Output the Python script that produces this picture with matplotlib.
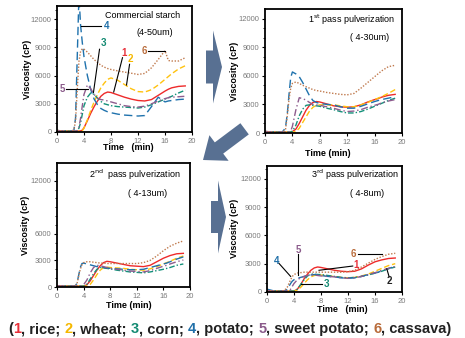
import numpy as np
import matplotlib
matplotlib.use("Agg")
import matplotlib.pyplot as plt
from matplotlib.patches import Polygon
from matplotlib.text import Annotation

plt.rcParams["font.family"] = ["Liberation Sans", "DejaVu Sans"]

# time grid (min) shared by all curves
time_min = [0, 1, 2, 2.5, 2.75, 3, 3.25, 3.5, 3.75, 4, 4.5, 5, 5.5, 6, 6.5, 7, 7.5,
            8, 9, 10, 11, 12, 13, 14, 15, 16, 16.5, 17, 18, 19]

starch = ["rice", "wheat", "corn", "potato", "sweet potato", "cassava"]

# commercial starch (4-50 um)
rice_0 = [150, 120, 100, 100, 100, 100, 100, 120, 200, 450, 1200, 2000, 2700, 3300, 3800, 4100, 4250,
          4200, 3950, 3700, 3500, 3350, 3300, 3450, 3900, 4350, 4550, 4700, 4850, 4900]
wheat_0 = [150, 120, 100, 100, 100, 100, 100, 100, 150, 400, 1300, 2300, 3200, 4000, 4700, 5200, 5600,
           5750, 5500, 5050, 4600, 4300, 4250, 4500, 5000, 5600, 5900, 6200, 6700, 7050]
corn_0 = [150, 120, 100, 100, 100, 150, 400, 1000, 1900, 2800, 3700, 4150, 4000, 3600, 3250, 3000, 2900,
          2800, 2700, 2650, 2600, 2550, 2650, 2900, 3200, 3500, 3650, 3800, 4150, 4450]
potato_0 = [150, 120, 100, 150, 1500, 8000, 14500, 11300, 9500, 8000, 6000, 4500, 3500, 2900, 2500, 2300, 2150,
            2050, 1900, 1800, 1750, 1700, 1750, 2700, 3700, 3200, 3300, 3350, 3450, 3500]
sweet_0 = [150, 120, 100, 100, 100, 150, 500, 1500, 2800, 4000, 5000, 4600, 4000, 3600, 3450, 3400, 3300,
           3200, 3000, 2800, 2700, 2650, 2750, 3000, 3300, 3550, 3650, 3700, 3750, 3800]
cassava_0 = [150, 120, 100, 200, 1200, 4500, 7500, 8600, 8850, 8800, 8500, 8100, 7700, 7400, 7100, 6900, 6750,
             6650, 6500, 6370, 6250, 6120, 6230, 6830, 7720, 8650, 7600, 7550, 7550, 7900]

# 1st pass pulverization (4-30 um)
rice_1 = [150, 120, 100, 100, 100, 100, 100, 100, 100, 150, 400, 1000, 1700, 2400, 2900, 3200, 3300,
          3250, 3050, 2850, 2750, 2700, 2750, 2950, 3250, 3500, 3600, 3750, 3950, 4050]
wheat_1 = [150, 120, 100, 100, 100, 100, 100, 100, 100, 100, 150, 500, 1100, 1700, 2300, 2700, 2900,
           2950, 2950, 2950, 2850, 2750, 2750, 2950, 3200, 3500, 3650, 3800, 4150, 4550]
corn_1 = [150, 120, 100, 100, 100, 100, 100, 100, 100, 200, 800, 1800, 2500, 2900, 2950, 2900, 2850,
          2800, 2600, 2450, 2250, 2100, 2100, 2250, 2500, 2800, 2950, 3100, 3400, 3650]
potato_1 = [150, 120, 100, 100, 300, 600, 2000, 4000, 5800, 6400, 6200, 5900, 5300, 4600, 3900, 3400, 3200,
            3100, 3000, 2950, 2750, 2600, 2600, 2800, 3050, 3300, 3400, 3500, 3650, 3800]
sweet_1 = [150, 120, 100, 100, 100, 100, 100, 100, 200, 700, 2400, 3700, 3600, 3450, 3200, 3000, 2950,
           2900, 2750, 2600, 2400, 2250, 2300, 2450, 2700, 2900, 3000, 3150, 3350, 3500]
cassava_1 = [150, 120, 100, 100, 200, 400, 1800, 3500, 4700, 5200, 5350, 5200, 5000, 4850, 4700, 4550, 4450,
             4400, 4250, 4150, 4050, 4000, 4150, 4700, 5300, 5900, 6200, 6500, 6950, 7100]

# 2nd pass pulverization (4-13 um)
rice_2 = [150, 120, 100, 100, 100, 100, 100, 100, 100, 100, 250, 700, 1300, 1900, 2400, 2750, 2900,
          2850, 2700, 2550, 2400, 2350, 2300, 2450, 2850, 3250, 3400, 3550, 3750, 3800]
wheat_2 = [150, 120, 100, 100, 100, 100, 100, 100, 100, 100, 100, 300, 800, 1400, 1900, 2200, 2250,
           2200, 2150, 2100, 2000, 1950, 1900, 2050, 2300, 2600, 2750, 2900, 3250, 3500]
corn_2 = [150, 120, 100, 100, 100, 100, 100, 100, 100, 100, 300, 900, 1500, 2000, 2200, 2150, 2100,
          2050, 1900, 1800, 1700, 1650, 1600, 1700, 1850, 2000, 2100, 2200, 2450, 2600]
potato_2 = [150, 120, 100, 100, 150, 400, 1300, 2200, 2650, 2700, 2600, 2500, 2400, 2300, 2250, 2200, 2150,
            2100, 2050, 2000, 1950, 1950, 2000, 2200, 2400, 2600, 2700, 2850, 3150, 3400]
sweet_2 = [150, 120, 100, 100, 100, 100, 100, 100, 100, 250, 800, 1600, 2200, 2450, 2400, 2300, 2200,
           2100, 2000, 1900, 1800, 1750, 1700, 1850, 2100, 2350, 2450, 2600, 2850, 3050]
cassava_2 = [150, 120, 100, 100, 150, 350, 1200, 2000, 2500, 2750, 2850, 2850, 2800, 2750, 2700, 2700, 2650,
             2650, 2650, 2650, 2650, 2650, 2750, 3000, 3500, 4100, 4350, 4600, 4950, 5200]

# 3rd pass pulverization (4-8 um)
rice_3 = [150, 120, 100, 100, 100, 100, 100, 100, 100, 100, 300, 800, 1400, 1900, 2300, 2550, 2650,
          2600, 2450, 2300, 2200, 2150, 2200, 2450, 2850, 3200, 3300, 3400, 3550, 3600]
wheat_3 = [150, 120, 100, 100, 100, 100, 100, 100, 100, 100, 200, 500, 900, 1300, 1600, 1750, 1800,
           1800, 1700, 1650, 1550, 1500, 1550, 1700, 1900, 2200, 2350, 2500, 2800, 3000]
corn_3 = [150, 120, 100, 100, 100, 100, 100, 100, 100, 100, 300, 800, 1300, 1700, 1900, 1900, 1850,
          1850, 1750, 1650, 1550, 1500, 1550, 1650, 1800, 2000, 2100, 2200, 2450, 2650]
potato_3 = [300, 120, 100, 100, 150, 300, 600, 900, 1150, 1300, 1450, 1550, 1650, 1750, 1800, 1850, 1800,
            1750, 1650, 1600, 1500, 1450, 1500, 1650, 1850, 2000, 2100, 2250, 2500, 2700]
sweet_3 = [150, 120, 100, 100, 100, 100, 100, 300, 600, 900, 1300, 1500, 1650, 1750, 1800, 1800, 1750,
           1700, 1650, 1600, 1500, 1450, 1500, 1650, 1850, 2050, 2150, 2300, 2500, 2700]
cassava_3 = [150, 120, 100, 150, 300, 500, 900, 1300, 1650, 1850, 2000, 2050, 2100, 2100, 2100, 2100, 2100,
             2100, 2100, 2100, 2100, 2150, 2300, 2650, 3050, 3450, 3600, 3750, 4000, 4100]

panel_data = [
    [rice_0, wheat_0, corn_0, potato_0, sweet_0, cassava_0],
    [rice_1, wheat_1, corn_1, potato_1, sweet_1, cassava_1],
    [rice_2, wheat_2, corn_2, potato_2, sweet_2, cassava_2],
    [rice_3, wheat_3, corn_3, potato_3, sweet_3, cassava_3],
]

colors = ["#ee2a2a", "#ffc20e", "#14917a", "#1f72ad", "#8e5c8e", "#c07a4e"]
styles = ["-", (0, (4, 2)), (0, (4, 1.5, 1, 1.5)), (0, (6, 3)), (0, (5, 2, 1, 2)), (0, (1, 1.2))]
label_colors = ["#e8303a", "#f5b800", "#138a72", "#1f6fa8", "#8a5a8a", "#b86b3a"]

fig = plt.figure(figsize=(4.65, 3.38), dpi=100)
W, H = 465, 338


def px_axes(l, r, t, b):
    return fig.add_axes([l / W, 1 - b / H, (r - l) / W, (b - t) / H])


axes = [px_axes(57, 192, 6, 132), px_axes(265, 402, 9, 133),
        px_axes(57, 190, 163, 287), px_axes(267, 402, 165.5, 292)]
ylims = [13400, 13000, 14000, 13400]
titles = ["Commercial starch", r"1$^{\rm st}$ pass pulverization",
          r"2$^{\rm nd}$  pass pulverization", r"3$^{\rm rd}$ pass pulverization"]
sizes = ["(4-50um)", "( 4-30um)", "( 4-13um)", "( 4-8um)"]
title_pos = [(0.637, 0.925), (0.635, 0.915), (0.584, 0.905), (0.650, 0.928)]
size_pos = [(0.726, 0.786), (0.763, 0.774), (0.684, 0.756), (0.738, 0.780)]
xlabels = ["Time   (min)", "Time (min)", "Time (min)", "Time   (min)"]
xlab_pos = [(0.526, -0.125), (0.46, -0.162), (0.54, -0.150), (0.556, -0.138)]
ylab_x = [-0.222, -0.219, -0.24, -0.244]

for k, ax in enumerate(axes):
    for vals, c, ls in zip(panel_data[k], colors, styles):
        ax.plot(time_min, vals, color=c, linestyle=ls, lw=1.0)
    ax.set_xlim(0, 20)
    ax.set_ylim(0, ylims[k])
    ax.set_xticks([0, 4, 8, 12, 16, 20])
    if k == 2:
        ax.set_yticks([0, 3000, 6000, 12000])
    else:
        ax.set_yticks([0, 3000, 6000, 9000, 12000])
    ax.set_yticks(np.arange(0, ylims[k], 1000), minor=True)
    ax.tick_params(labelsize=5.5, labelcolor="#7a7a7a", length=2.5, width=0.8, pad=1.5)
    ax.tick_params(which="minor", length=1.5, width=0.6)
    for s in ax.spines.values():
        s.set_linewidth(1.3)
    ax.set_xlabel(xlabels[k], fontsize=6.5, fontweight="bold", va="center")
    ax.xaxis.set_label_coords(*xlab_pos[k])
    ax.set_ylabel("Viscosity (cP)", fontsize=6.5, fontweight="bold", va="center")
    ax.yaxis.set_label_coords(ylab_x[k], 0.5)
    ax.text(*title_pos[k], titles[k], transform=ax.transAxes, fontsize=6.5,
            ha="center", va="center")
    ax.text(*size_pos[k], sizes[k], transform=ax.transAxes, fontsize=6.5,
            ha="center", va="center")

# numbered leader labels: (label, colour, text xy, line start, line end)
notes_0 = [("4", label_colors[3], (7.3, 11300), (3.6, 11300), (6.5, 11300)),
           ("3", label_colors[2], (6.9, 9500), (6.3, 8800), (5.4, 4200)),
           ("1", label_colors[0], (10.0, 8450), (9.7, 7900), (8.4, 4250)),
           ("2", label_colors[1], (10.9, 7750), (10.75, 7200), (10.3, 5000)),
           ("6", label_colors[5], (12.9, 8600), (13.5, 8600), (16.0, 8600)),
           ("5", label_colors[4], (0.75, 4550), (1.35, 4600), (4.6, 4600))]
notes_3 = [("5", label_colors[4], (4.6, 4400), (4.65, 4000), (4.65, 1800)),
           ("4", label_colors[3], (1.4, 3300), (1.75, 3050), (3.5, 1650)),
           ("6", label_colors[5], (12.85, 4000), (13.5, 4000), (17.0, 4000)),
           ("1", label_colors[0], (13.25, 2850), (12.7, 2750), (7.7, 2300)),
           ("3", label_colors[2], (8.75, 800), (5.0, 800), (8.15, 800)),
           ("2", "#222222", (18.15, 1150), (18.1, 1600), (17.75, 2450))]

for ax, notes in [(axes[0], notes_0), (axes[3], notes_3)]:
    for lab, c, txy, p0, p1 in notes:
        ax.plot([p0[0], p1[0]], [p0[1], p1[1]], color="black", lw=0.8)
        ax.text(*txy, lab, color=c, fontsize=7, fontweight="bold", ha="center", va="center")


def arrow_poly(tip, direction, length, head_len, head_hw, shaft_hw):
    tip = np.array(tip, float)
    u = np.array(direction, float)
    u /= np.linalg.norm(u)
    n = np.array([-u[1], u[0]])
    base = tip - head_len * u
    end = tip - length * u
    pts = [end + shaft_hw * n, base + shaft_hw * n, base + head_hw * n, tip,
           base - head_hw * n, base - shaft_hw * n, end - shaft_hw * n]
    return [(p[0] / W, 1 - p[1] / H) for p in pts]


arrow_color = "#587092"
for spec in [((222, 67), (1, 0), 16, 9, 36.5, 16.5),
             ((226, 217), (1, 0), 15, 8, 36.5, 16),
             ((203, 160), (-0.8, 0.6), 52, 20, 16, 7)]:
    fig.patches.append(Polygon(arrow_poly(*spec), closed=True, transform=fig.transFigure,
                               facecolor=arrow_color, edgecolor="none"))

# colour-coded key along the bottom, pieces chained left to right
pieces = [("(", "#222222")]
for i, name in enumerate(starch):
    pieces.append((str(i + 1), label_colors[i]))
    if i == len(starch) - 1:
        pieces.append((", " + name + ")", "#222222"))
    else:
        pieces.append((", " + name + "; ", "#222222"))

prev = fig.text(8 / W, 1 - 329 / H, pieces[0][0], color=pieces[0][1], fontsize=10.5,
                fontweight="bold", va="center", ha="left")
for s, c in pieces[1:]:
    prev = fig.add_artist(Annotation(s, xy=(1, 0.5), xycoords=prev, va="center", ha="left",
                                     color=c, fontsize=10.5, fontweight="bold"))

fig.savefig("out.png", dpi=100)
